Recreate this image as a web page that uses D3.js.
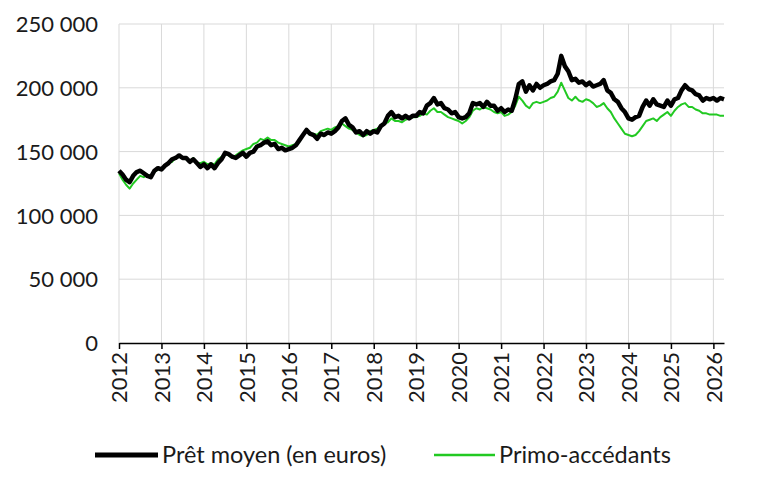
<!DOCTYPE html>
<html>
<head>
<meta charset="utf-8">
<script src="https://cdn.jsdelivr.net/npm/d3@7"></script>
<style>
  body { margin: 0; background: #fff; }
  text { font-family: Lato, "Open Sans", sans-serif; fill: #1a1a1a; }
</style>
</head>
<body>
<div id="chart"></div>
<script>
// Monthly values, in thousands of euros, from January 2012 to April 2026
var pretMoyen = [
    135,132,128,126,131,134,135,133,131,130,135,137,  // 2012
    136,139,141,144,145,147,145,145,142,144,141,138,  // 2013
    140,137,140,137,141,144,149,148,146,145,147,149,  // 2014
    146,149,150,154,155,157,158,155,156,152,153,151,  // 2015
    152,153,155,159,163,167,164,163,160,164,163,165,  // 2016
    164,166,169,174,176,171,169,165,166,163,166,164,  // 2017
    166,165,170,172,178,181,177,178,176,178,176,178,  // 2018
    178,181,180,186,188,192,187,188,184,183,180,181,  // 2019
    177,176,177,180,188,187,188,185,189,186,186,182,  // 2020
    184,181,183,182,191,203,205,197,202,198,203,200,  // 2021
    202,203,205,206,211,225,217,213,206,207,204,205,  // 2022
    202,204,201,202,203,206,198,196,191,189,184,181,  // 2023
    176,175,177,178,185,190,186,191,187,186,185,190,  // 2024
    186,191,192,198,202,199,198,195,194,190,192,191,  // 2025
    192,190,192,191                                   // 2026
];
var primoAccedants = [
    133,128,124,121,125,128,131,130,132,131,134,136,
    137,138,141,142,145,146,145,144,142,145,141,141,
    142,140,141,140,144,146,148,147,145,147,149,151,
    152,153,156,157,160,159,161,159,159,157,156,155,
    154,155,156,158,163,166,163,164,163,166,167,168,
    167,169,170,172,170,168,167,165,163,162,163,166,
    167,168,170,172,173,176,174,174,173,175,176,177,
    177,178,180,179,182,184,181,181,179,177,176,175,
    174,172,174,177,182,184,183,185,184,183,181,180,
    181,178,179,181,186,193,190,186,184,188,189,188,
    189,190,192,193,197,204,198,192,190,193,190,189,
    191,190,188,185,186,188,184,181,176,172,168,164,
    163,162,163,166,170,174,175,176,174,177,179,181,
    178,182,185,187,188,185,185,183,182,180,180,179,
    179,179,178,178
];
var years = d3.range(2012, 2027);
var yTicks = [0, 50000, 100000, 150000, 200000, 250000];

var series = [
    {name: "Prêt moyen (en euros)", values: pretMoyen, color: "#000000", width: 4.5},
    {name: "Primo-accédants", values: primoAccedants, color: "#22c922", width: 2}
];

var width = 768, height = 504;
var margin = {top: 24, right: 44, bottom: 161, left: 119};
var innerW = width - margin.left - margin.right,
    innerH = height - margin.top - margin.bottom;

var svg = d3.select("#chart").append("svg")
    .attr("width", width)
    .attr("height", height);

var g = svg.append("g")
    .attr("transform", "translate(" + margin.left + "," + margin.top + ")");

var x = d3.scaleLinear()
    .domain([2012, 2012 + (pretMoyen.length - 1) / 12])
    .range([0, innerW]);

var y = d3.scaleLinear()
    .domain([0, 250000])
    .range([innerH, 0]);

// gridlines
g.append("g").selectAll("line.h")
    .data(yTicks.slice(1))
    .enter().append("line")
    .attr("x1", 0).attr("x2", innerW)
    .attr("y1", function(d) { return y(d); })
    .attr("y2", function(d) { return y(d); })
    .style("stroke", "#d9d9d9");

g.append("g").selectAll("line.v")
    .data(years)
    .enter().append("line")
    .attr("x1", function(d) { return x(d); })
    .attr("x2", function(d) { return x(d); })
    .attr("y1", 0).attr("y2", innerH)
    .style("stroke", "#d9d9d9");

// y axis labels
var fmt = function(d) { return d3.format(",")(d).replace(/,/g, " "); };
var yAxis = d3.axisLeft(y).tickValues(yTicks).tickFormat(fmt).tickSize(0).tickPadding(21);
var ya = g.append("g").call(yAxis);
ya.select(".domain").remove();
ya.selectAll("text").style("font-size", "22px").attr("dy", "0.35em");

// x axis
var xAxis = d3.axisBottom(x).tickValues(years).tickFormat(d3.format("d")).tickSize(6).tickSizeOuter(0);
var xa = g.append("g")
    .attr("transform", "translate(0," + innerH + ")")
    .call(xAxis);
xa.select(".domain").style("stroke", "#000").style("stroke-width", 1.5);
xa.selectAll(".tick line").style("stroke", "#000").style("stroke-width", 1.5);
xa.selectAll("text")
    .style("font-size", "22px")
    .attr("transform", "rotate(-90)")
    .attr("x", -9)
    .attr("y", 0)
    .attr("dy", "0.35em")
    .style("text-anchor", "end");

// lines
var line = d3.line()
    .x(function(d, i) { return x(2012 + i / 12); })
    .y(function(d) { return y(d * 1000); });

series.slice().reverse().forEach(function(s) {
    g.append("path")
        .datum(s.values)
        .attr("d", line)
        .style("fill", "none")
        .style("stroke", s.color)
        .style("stroke-width", s.width)
        .style("stroke-linejoin", "round");
});

// legend
var legendPos = [{lx: 95, tx: 162}, {lx: 434, tx: 499}];
series.forEach(function(s, i) {
    var lg = svg.append("g").attr("transform", "translate(0,455)");
    lg.append("line")
        .attr("x1", legendPos[i].lx).attr("x2", legendPos[i].tx - 4)
        .attr("y1", 0).attr("y2", 0)
        .style("stroke", s.color)
        .style("stroke-width", s.width + 0.5);
    lg.append("text")
        .attr("x", legendPos[i].tx)
        .attr("y", 0)
        .attr("dy", "0.35em")
        .style("font-size", "23.5px")
        .text(s.name);
});
</script>
</body>
</html>
